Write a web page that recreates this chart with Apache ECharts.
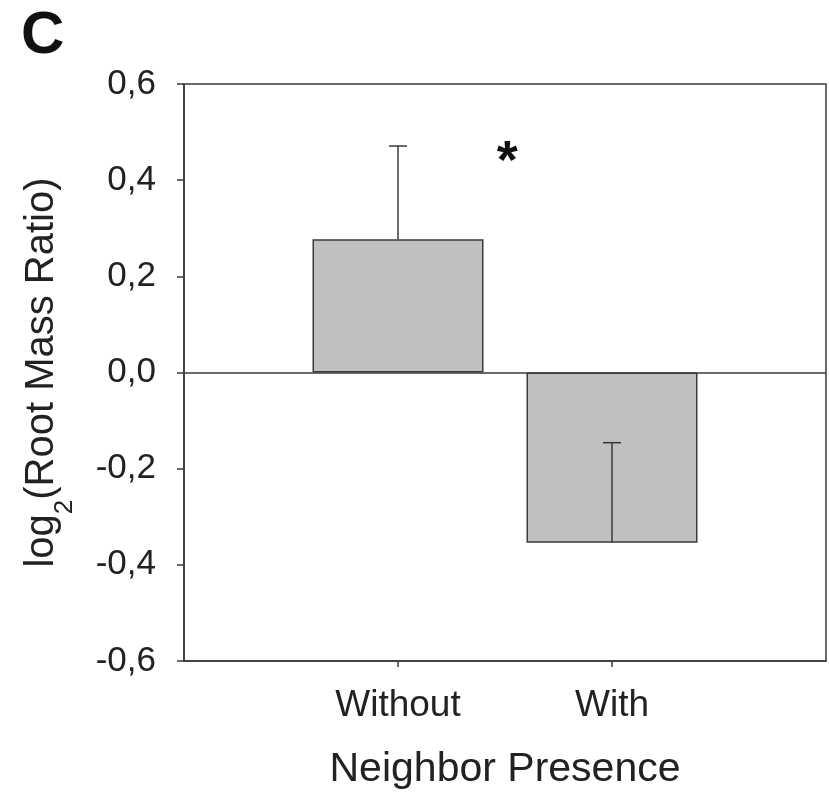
<!DOCTYPE html>
<html>
<head>
<meta charset="utf-8">
<script src="https://cdn.jsdelivr.net/npm/echarts@6/dist/echarts.min.js"></script>
<style>html,body{margin:0;padding:0;background:#fff}#c{width:829px;height:795px}</style>
</head>
<body>
<div id="c"></div>
<script>
const categories = ['Without', 'With'];
const categoryPos = [1, 2];
const means = [0.277, -0.354];
const errors = [0.194, 0.208];
const yTicks = [-0.6, -0.4, -0.2, 0.0, 0.2, 0.4, 0.6];
const sigMark = [[1.51, 0.435, '*']];

const chart = echarts.init(document.getElementById('c'));
const axisColor = '#3a3a3a';
const textColor = '#222';
const font = 'Arial, "Liberation Sans", sans-serif';

const barData = categoryPos.map((x, i) => [x, means[i]]);
const errData = categoryPos.map((x, i) => [x, means[i], means[i] + errors[i]]);

chart.setOption({
  animation: false,
  backgroundColor: '#fff',
  title: {
    text: 'C', left: 16, top: 1,
    textStyle: { fontFamily: font, fontWeight: 'bold', fontSize: 60, color: '#111' }
  },
  grid: {
    left: 184, right: 3, top: 84, bottom: 133,
    show: true, borderColor: axisColor, borderWidth: 1.5, backgroundColor: 'transparent'
  },
  xAxis: {
    type: 'value', min: 0, max: 3, interval: 1,
    name: 'Neighbor Presence', nameLocation: 'middle', nameGap: 88,
    nameTextStyle: { fontFamily: font, fontSize: 41, color: textColor },
    axisLine: { show: true, onZero: false, lineStyle: { color: axisColor, width: 1.5 } },
    axisTick: { show: true, inside: false, length: 6, customValues: categoryPos, lineStyle: { color: axisColor, width: 1.5 } },
    axisLabel: {
      customValues: categoryPos,
      formatter: v => categories[categoryPos.indexOf(v)] || '',
      fontFamily: font, fontSize: 37, color: textColor, margin: 26
    },
    splitLine: { show: false }
  },
  yAxis: {
    type: 'value', min: -0.6, max: 0.6, interval: 0.2,
    name: 'log{sub|2}(Root Mass Ratio)', nameLocation: 'middle', nameGap: 122, nameRotate: 90,
    nameTextStyle: {
      fontFamily: font, fontSize: 40, color: textColor,
      rich: { sub: { fontFamily: font, fontSize: 26, color: textColor, verticalAlign: 'bottom', padding: [0, 0, -16, 0] } }
    },
    axisLine: { show: true, onZero: false, lineStyle: { color: axisColor, width: 1.5 } },
    axisTick: { show: true, inside: false, length: 7, lineStyle: { color: axisColor, width: 1.5 } },
    axisLabel: {
      formatter: v => {
        let t = yTicks.reduce((a, b) => Math.abs(b - v) < Math.abs(a - v) ? b : a);
        return t.toFixed(1).replace('.', ',').replace('-0,0', '0,0');
      },
      fontFamily: font, fontSize: 35, color: textColor, margin: 28
    },
    splitLine: { show: false }
  },
  series: [
    {
      type: 'bar', data: barData, barWidth: 171,
      itemStyle: { color: '#c0c0c0', borderColor: '#3a3a3a', borderWidth: 1.5 },
      markLine: {
        silent: true, symbol: 'none', label: { show: false },
        lineStyle: { color: axisColor, width: 1.5, type: 'solid' },
        data: [{ yAxis: 0 }]
      },
      z: 2
    },
    {
      type: 'custom', data: errData, z: 3,
      renderItem: (params, api) => {
        const x = api.value(0);
        const p0 = api.coord([x, api.value(1)]);
        const p1 = api.coord([x, api.value(2)]);
        const cap = 9;
        return {
          type: 'group',
          children: [
            { type: 'line', shape: { x1: p0[0], y1: p0[1], x2: p1[0], y2: p1[1] }, style: { stroke: '#3a3a3a', lineWidth: 1.5 } },
            { type: 'line', shape: { x1: p1[0] - cap, y1: p1[1], x2: p1[0] + cap, y2: p1[1] }, style: { stroke: '#3a3a3a', lineWidth: 1.5 } }
          ]
        };
      }
    },
    {
      type: 'scatter', data: sigMark, symbolSize: 0, z: 4,
      itemStyle: { opacity: 1 },
      label: {
        show: true, position: 'inside', formatter: p => p.data[2],
        fontFamily: font, fontWeight: 'bold', fontSize: 54, color: '#111',
        textBorderWidth: 0, opacity: 1
      }
    }
  ]
});
</script>
</body>
</html>
